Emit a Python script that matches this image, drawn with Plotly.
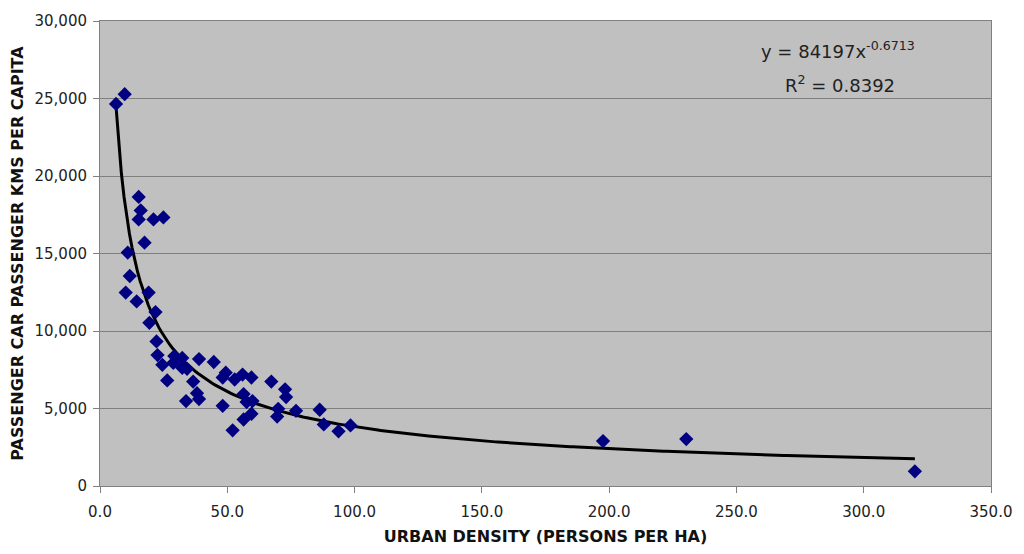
import plotly.graph_objects as go

# Urban density (persons per ha)
density = [6.3, 9.7, 15.2, 16.0, 15.2, 21.0, 24.9, 17.5, 10.9, 11.7, 10.1, 19.1, 14.4,
           21.8, 19.4, 22.2, 22.6, 24.5, 26.4, 29.2, 28.8, 32.3, 32.3, 34.2, 38.9, 36.6,
           33.8, 38.1, 38.9, 44.7, 48.2, 49.4, 52.9, 56.0, 59.5, 67.3, 72.7, 73.1, 56.4,
           57.6, 59.9, 48.2, 70.0, 69.6, 59.5, 56.4, 52.1, 77.0, 86.3, 87.9, 93.7, 98.4,
           197.6, 230.3, 320.1]
# Passenger car passenger kms per capita
car_km = [24650, 25280, 18650, 17780, 17200, 17200, 17330, 15700, 15060, 13550, 12480,
          12480, 11910, 11220, 10530, 9330, 8450, 7820, 6810, 8380, 7940, 8260, 7630,
          7560, 8190, 6740, 5480, 5990, 5610, 8000, 7000, 7310, 6870, 7190, 7000, 6740,
          6240, 5740, 5930, 5420, 5480, 5170, 4980, 4480, 4660, 4290, 3590, 4850, 4920,
          3970, 3530, 3910, 2900, 3030, 950]

# Power trendline coefficients (as reported on chart)
trend_a = 84197
trend_b = -0.6713
r_squared = 0.8392

x_ticks = [0, 50, 100, 150, 200, 250, 300, 350]
y_ticks = [0, 5000, 10000, 15000, 20000, 25000, 30000]

xmin, xmax = min(density), max(density)
n = 300
trend_x = [xmin + (xmax - xmin) * i / (n - 1) for i in range(n)]
trend_y = [trend_a * x ** trend_b for x in trend_x]

fig = go.Figure()
fig.add_trace(go.Scatter(
    x=trend_x, y=trend_y, mode="lines",
    line=dict(color="black", width=3), hoverinfo="skip", showlegend=False))
fig.add_trace(go.Scatter(
    x=density, y=car_km, mode="markers",
    marker=dict(symbol="diamond", size=11, color="#000080", line=dict(width=0)),
    showlegend=False))

font_family = "DejaVu Sans, Verdana, sans-serif"

fig.update_layout(
    autosize=True,
    margin=dict(l=100, r=24, t=18, b=60),
    paper_bgcolor="white",
    plot_bgcolor="#C0C0C0",
    font=dict(family=font_family, size=15, color="#222222"),
    showlegend=False,
)
fig.update_xaxes(
    range=[0, 350], tickvals=x_ticks, tickformat=".1f",
    showgrid=False, zeroline=False,
    showline=True, linecolor="#808080", linewidth=1, mirror=True,
    ticks="outside", ticklen=6, tickcolor="#808080",
    ticklabelstandoff=6,
    tickfont=dict(size=15),
    title=dict(text="<b>URBAN DENSITY (PERSONS PER HA)</b>",
               font=dict(size=16, color="#111111"), standoff=10),
)
fig.update_yaxes(
    range=[0, 30000], tickvals=y_ticks, tickformat=",d",
    showgrid=True, gridcolor="#808080", gridwidth=1, zeroline=False,
    showline=True, linecolor="#808080", linewidth=1, mirror=True,
    ticks="outside", ticklen=6, tickcolor="#808080",
    ticklabelstandoff=3,
    tickfont=dict(size=15),
    title=dict(text="<b>PASSENGER CAR PASSENGER KMS PER CAPITA</b>",
               font=dict(size=16, color="#111111"), standoff=6),
)

fig.add_annotation(
    x=0.917, y=0.937, xref="paper", yref="paper", xanchor="right", yanchor="middle",
    text=f"y = {trend_a}x<sup>{trend_b}</sup>", showarrow=False,
    font=dict(size=18, color="#222222", family=font_family))
fig.add_annotation(
    x=0.894, y=0.864, xref="paper", yref="paper", xanchor="right", yanchor="middle",
    text=f"R<sup>2</sup> = {r_squared}", showarrow=False,
    font=dict(size=18, color="#222222", family=font_family))

fig.write_html(
    "out.html",
    default_width="100vw", default_height="100vh",
    config={"displayModeBar": False, "responsive": True},
    post_script=(
        "document.documentElement.style.margin='0';"
        "document.body.style.margin='0';document.body.style.overflow='hidden';"
        "Plotly.Plots.resize(document.getElementById('{plot_id}'));"
    ),
)
